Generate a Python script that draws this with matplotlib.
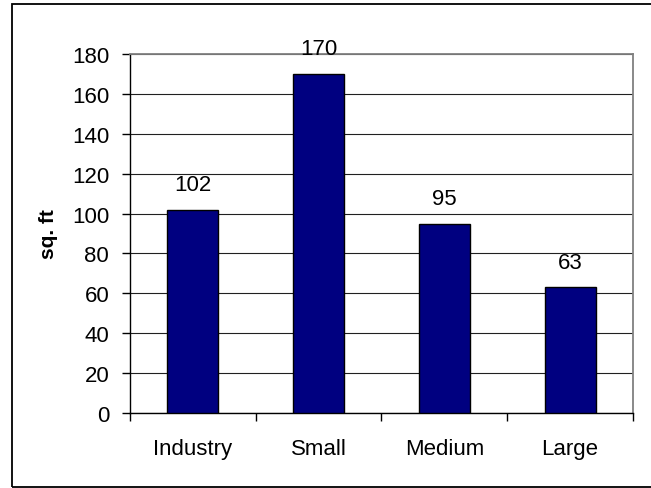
import matplotlib.pyplot as plt
from matplotlib.patches import Rectangle
from matplotlib.ticker import FixedLocator, NullFormatter

categories = ["Industry", "Small", "Medium", "Large"]
values = [102, 170, 95, 63]
y_ticks = [0, 20, 40, 60, 80, 100, 120, 140, 160, 180]

plt.rcParams["font.family"] = ["Liberation Sans", "DejaVu Sans"]

fig = plt.figure(figsize=(6.51, 4.89), dpi=100)
ax = fig.add_axes([130 / 651, 75 / 489, 503 / 651, 359 / 489])

# outer chart frame (runs off the right edge)
fig.add_artist(Rectangle((12 / 651, 1 / 489), 0.99, 483 / 489,
                         transform=fig.transFigure, fill=False,
                         edgecolor="black", linewidth=1.3))

centers = [i + 0.5 for i in range(len(categories))]
ax.bar(centers, values, width=0.405, color="#000080", edgecolor="black",
       linewidth=1.0, zorder=3)

for x, v in zip(centers, values):
    ax.annotate(str(v), xy=(x, v), xytext=(0, 14), textcoords="offset points",
                ha="center", va="baseline", fontsize=16, zorder=4,
                annotation_clip=False)

ax.set_xlim(0, len(categories))
ax.set_ylim(0, 180)
ax.set_yticks(y_ticks)
ax.yaxis.grid(True, color="#202020", linewidth=0.8, zorder=0)
ax.set_axisbelow(True)

ax.xaxis.set_major_locator(FixedLocator(range(len(categories) + 1)))
ax.xaxis.set_major_formatter(NullFormatter())
ax.xaxis.set_minor_locator(FixedLocator(centers))
ax.set_xticklabels(categories, minor=True)
ax.tick_params(axis="x", which="minor", length=0, pad=18, labelsize=16)
ax.tick_params(axis="x", which="major", length=6, width=1, direction="out")
ax.tick_params(axis="y", length=6, width=1, direction="out", pad=9, labelsize=16)

for side in ("left", "bottom"):
    ax.spines[side].set_color("black")
    ax.spines[side].set_linewidth(1)
for side in ("top", "right"):
    ax.spines[side].set_color("#808080")
    ax.spines[side].set_linewidth(1.3)

ax.set_ylabel("sq. ft", fontsize=15, fontweight="bold", labelpad=10)

fig.savefig("out.png", dpi=100)
